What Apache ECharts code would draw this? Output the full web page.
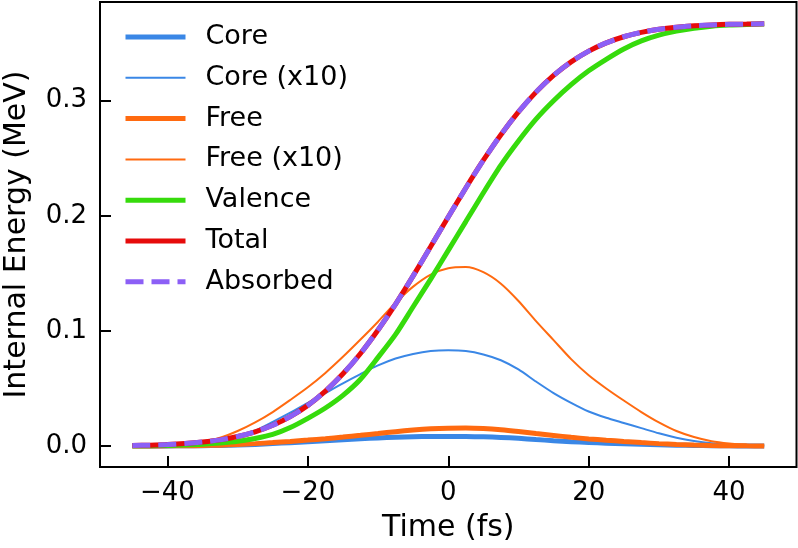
<!DOCTYPE html>
<html>
<head>
<meta charset="utf-8">
<script src="https://cdn.jsdelivr.net/npm/echarts@6/dist/echarts.min.js"></script>
<style>
  html, body { margin: 0; padding: 0; background: #fff; }
  #main { width: 798px; height: 548px; }
</style>
</head>
<body>
<div id="main"></div>
<script>
// time axis (fs), one point every 2.5 fs
var time = [-45, -42.5, -40, -37.5, -35, -32.5, -30, -27.5, -25, -22.5, -20, -17.5, -15, -12.5, -10, -7.5, -5, -2.5, 0,
    2.5, 5, 7.5, 10, 12.5, 15, 17.5, 20, 22.5, 25, 27.5, 30, 32.5, 35, 37.5, 40, 42.5, 45];

// internal energy (MeV)
var core = [0.00002, 0.00004, 0.00008, 0.00016, 0.0003, 0.00052, 0.00085, 0.00135, 0.0021, 0.0029, 0.00375, 0.0046, 0.00545,
    0.00625, 0.007, 0.0076, 0.008, 0.00825, 0.00832, 0.00825, 0.00795, 0.00745, 0.00665, 0.0056, 0.0046, 0.00375, 0.003,
    0.00245, 0.002, 0.00155, 0.0011, 0.00072, 0.00043, 0.00023, 0.00012, 0.00006, 0.00003];
var coreX10 = [0.0002, 0.0004, 0.0008, 0.0016, 0.0030, 0.0052, 0.0085, 0.0135, 0.0210, 0.0290, 0.0375, 0.0460, 0.0545,
    0.0625, 0.0700, 0.0760, 0.0800, 0.0825, 0.0832, 0.0825, 0.0795, 0.0745, 0.0665, 0.0560, 0.0460, 0.0375, 0.0300,
    0.0245, 0.0200, 0.0155, 0.0110, 0.0072, 0.0043, 0.0023, 0.0012, 0.0006, 0.0003];
var free = [0.00002, 0.00005, 0.00011, 0.00022, 0.0004, 0.00072, 0.0013, 0.00205, 0.00295, 0.004, 0.0051, 0.00635, 0.00775,
    0.00925, 0.0108, 0.01245, 0.01385, 0.0149, 0.01545, 0.01555, 0.0151, 0.0141, 0.0126, 0.01085, 0.0092, 0.00755, 0.00615,
    0.005, 0.00395, 0.00295, 0.00205, 0.0013, 0.00078, 0.00042, 0.00022, 0.0001, 0.00004];
var freeX10 = [0.0002, 0.0005, 0.0011, 0.0022, 0.0040, 0.0072, 0.0130, 0.0205, 0.0295, 0.0400, 0.0510, 0.0635, 0.0775,
    0.0925, 0.1080, 0.1245, 0.1385, 0.1490, 0.1545, 0.1555, 0.1510, 0.1410, 0.1260, 0.1085, 0.0920, 0.0755, 0.0615,
    0.0500, 0.0395, 0.0295, 0.0205, 0.0130, 0.0078, 0.0042, 0.0022, 0.0010, 0.0004];
var valence = [0.0001, 0.0003, 0.0005, 0.0009, 0.0015, 0.0025, 0.0040, 0.0065, 0.0100, 0.0160, 0.0240, 0.0330, 0.0440,
    0.0580, 0.0770, 0.0970, 0.1210, 0.1450, 0.1700, 0.1950, 0.2200, 0.2440, 0.2650, 0.2840, 0.3000, 0.3140, 0.3260,
    0.3360, 0.3450, 0.3520, 0.3570, 0.3605, 0.3630, 0.3648, 0.3658, 0.3663, 0.3666];
var total = [0.0004, 0.0007, 0.0012, 0.0021, 0.0034, 0.0053, 0.0082, 0.0123, 0.0180, 0.0255, 0.0353, 0.0477, 0.0627,
    0.0804, 0.1008, 0.1233, 0.1478, 0.1733, 0.1990, 0.2242, 0.2483, 0.2705, 0.2903, 0.3075, 0.3220, 0.3338, 0.3431,
    0.3503, 0.3556, 0.3594, 0.3621, 0.3639, 0.3651, 0.3659, 0.3664, 0.3666, 0.3668];
var absorbed = [0.0004, 0.0007, 0.0012, 0.0021, 0.0034, 0.0053, 0.0082, 0.0123, 0.0180, 0.0255, 0.0353, 0.0477, 0.0627,
    0.0804, 0.1008, 0.1233, 0.1478, 0.1733, 0.1990, 0.2242, 0.2483, 0.2705, 0.2903, 0.3075, 0.3220, 0.3338, 0.3431,
    0.3503, 0.3556, 0.3594, 0.3621, 0.3639, 0.3651, 0.3659, 0.3664, 0.3666, 0.3668];

var xTicks = [-40, -20, 0, 20, 40];
var yTicks = [0, 0.1, 0.2, 0.3];

var FONT = 'DejaVu Sans';
var BLUE = '#3a87e6', ORANGE = '#ff6a10', GREEN = '#36db0c', RED = '#e60b0b', PURPLE = '#8c5ff6';

function pairs(ys) {
    return time.map(function (t, i) { return [t, ys[i]]; });
}

function line(name, ys, color, width, type) {
    return {
        name: name,
        type: 'line',
        data: pairs(ys),
        symbol: 'none',
        smooth: 0.25,
        lineStyle: { color: color, width: width, type: type || 'solid' },
        itemStyle: { color: color, opacity: 0 },
        emphasis: { disabled: true }
    };
}

// legend entries: same width/dash as the curves, no marker dot
function legendItem(name, width, type) {
    return { name: name, itemStyle: { opacity: 0 }, lineStyle: { width: width, type: type || 'solid' } };
}

var myChart = echarts.init(document.getElementById('main'));

var option = {
    animation: false,
    backgroundColor: '#fff',
    textStyle: { fontFamily: FONT },
    grid: {
        left: 100, right: 1.5, top: 2, bottom: 81,
        outerBoundsMode: 'none',
        containLabel: false,
        show: true,
        borderColor: '#000',
        borderWidth: 2,
        backgroundColor: 'transparent'
    },
    legend: {
        orient: 'vertical',
        left: 123,
        top: 22,
        padding: 0,
        itemWidth: 60,
        itemHeight: 14,
        itemGap: 10.8,
        itemStyle: { opacity: 0 },
        textStyle: { fontSize: 27, color: '#000', fontFamily: FONT, lineHeight: 30, padding: [0, 0, 0, 15] },
        data: [
            legendItem('Core', 5),
            legendItem('Core (x10)', 2),
            legendItem('Free', 5),
            legendItem('Free (x10)', 2),
            legendItem('Valence', 5),
            legendItem('Total', 5),
            legendItem('Absorbed', 5, [18, 8])
        ]
    },
    xAxis: {
        type: 'value',
        min: -49.6,
        max: 49.6,
        name: 'Time (fs)',
        nameLocation: 'middle',
        nameGap: 46,
        nameTextStyle: { fontSize: 30, color: '#000', fontFamily: FONT },
        axisLine: { show: false, onZero: false },
        axisTick: { show: true, inside: true, length: 11, customValues: xTicks, lineStyle: { color: '#000', width: 2 } },
        axisLabel: {
            customValues: xTicks,
            margin: 13,
            fontSize: 26,
            color: '#000',
            fontFamily: FONT,
            formatter: function (v) { return String(v).replace('-', '\u2212'); }
        },
        splitLine: { show: false }
    },
    yAxis: {
        type: 'value',
        min: -0.01826,
        max: 0.3858,
        name: 'Internal Energy (MeV)',
        nameLocation: 'middle',
        nameGap: 68,
        nameTextStyle: { fontSize: 30, color: '#000', fontFamily: FONT },
        axisLine: { show: false, onZero: false },
        axisTick: { show: true, inside: true, length: 11, customValues: yTicks, lineStyle: { color: '#000', width: 2 } },
        axisLabel: {
            customValues: yTicks,
            margin: 13,
            fontSize: 26,
            color: '#000',
            fontFamily: FONT,
            formatter: function (v) { return v.toFixed(1); }
        },
        splitLine: { show: false }
    },
    series: [
        line('Core', core, BLUE, 5),
        line('Core (x10)', coreX10, BLUE, 2),
        line('Free', free, ORANGE, 5),
        line('Free (x10)', freeX10, ORANGE, 2),
        line('Valence', valence, GREEN, 5),
        line('Total', total, RED, 5),
        line('Absorbed', absorbed, PURPLE, 5, [18, 8])
    ]
};

myChart.setOption(option, true);
</script>
</body>
</html>
